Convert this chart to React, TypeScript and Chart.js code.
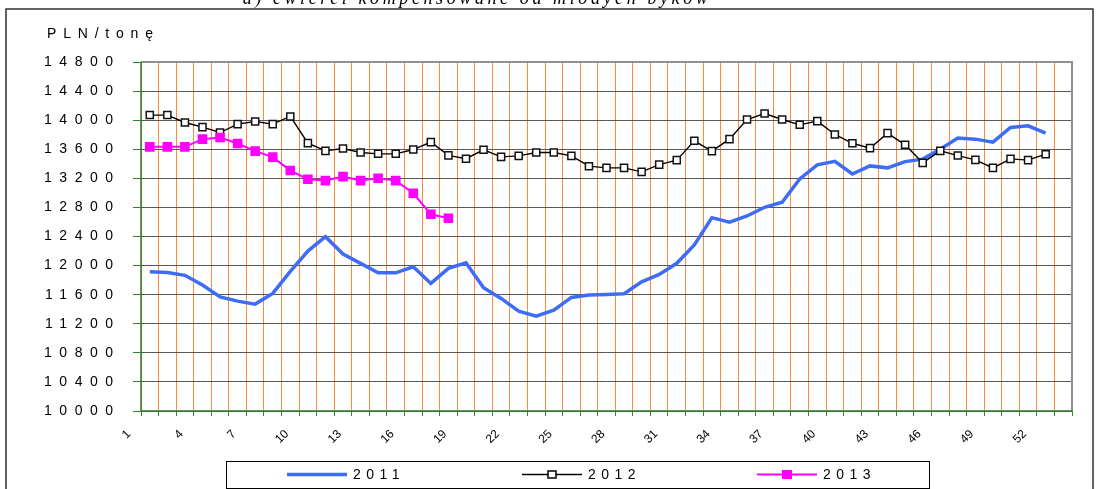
import React, { useEffect, useRef } from "react";
import { Chart, registerables } from "chart.js";

Chart.register(...registerables);

const weeks: string[] = Array.from({ length: 53 }, (_, i) => String(i + 1));

const series2011: number[] = [
  11915, 11906, 11866, 11732, 11570, 11511, 11470, 11617, 11920, 12200,
  12397, 12159, 12031, 11901, 11901, 11984, 11755, 11962, 12039, 11695,
  11548, 11373, 11304, 11387, 11562, 11594, 11603, 11612, 11777, 11879,
  12031, 12283, 12659, 12596, 12682, 12802, 12871, 13192, 13385, 13435,
  13260, 13371, 13344, 13430, 13464, 13601, 13753, 13739, 13698, 13899,
  13922, 13822,
];

const series2012: number[] = [
  14070, 14070, 13968, 13904, 13830, 13946, 13982, 13946, 14051, 13684,
  13578, 13610, 13555, 13537, 13537, 13596, 13698, 13516, 13470, 13592,
  13495, 13509, 13555, 13555, 13509, 13367, 13344, 13344, 13289, 13389,
  13450, 13716, 13574, 13739, 14009, 14092, 14009, 13936, 13987, 13803,
  13682, 13615, 13822, 13661, 13413, 13578, 13513, 13454, 13344, 13468,
  13450, 13532,
];

const series2013: number[] = [
  13633, 13633, 13633, 13739, 13761, 13679, 13574, 13491, 13307, 13188,
  13169, 13224, 13169, 13202, 13169, 12995, 12706, 12651,
];

const seriesNames: string[] = ["2011", "2012", "2013"];
const yMin = 10000;
const yMax = 14800;
const yStep = 400;
const unitLabel = "PLN/tonę";
const titleText = "a) ćwierci kompensowane od młodych byków";

const C2011 = "#3d6cf5";
const C2012 = "#000000";
const C2013 = "#ff00ff";
const SANS = '"Liberation Sans", Arial, sans-serif';

function drawSpaced(ctx: CanvasRenderingContext2D, text: string, x: number, y: number, ls: number, align: "left" | "right") {
  ctx.letterSpacing = ls + "px";
  const w = ctx.measureText(text).width - ls;
  ctx.textAlign = "left";
  ctx.fillText(text, align === "left" ? x : x - w, y);
  ctx.letterSpacing = "0px";
}

const decor = {
  id: "decor",
  beforeDatasetsDraw(chart: any) {
    const ctx: CanvasRenderingContext2D = chart.ctx;
    const { left, right, top, bottom } = chart.chartArea;
    ctx.save();
    ctx.strokeStyle = "#8f8f8f";
    ctx.lineWidth = 2;
    ctx.beginPath();
    ctx.moveTo(left, top);
    ctx.lineTo(right, top);
    ctx.lineTo(right, bottom);
    ctx.stroke();
    ctx.strokeStyle = "#2b7d2b";
    ctx.lineWidth = 1.5;
    ctx.beginPath();
    ctx.moveTo(left, top);
    ctx.lineTo(left, bottom);
    ctx.lineTo(right, bottom);
    ctx.stroke();
    ctx.restore();
  },
  afterDraw(chart: any) {
    const ctx: CanvasRenderingContext2D = chart.ctx;
    const { left } = chart.chartArea;
    const ys = chart.scales.y;
    ctx.save();
    // outer frame
    ctx.strokeStyle = "#303030";
    ctx.lineWidth = 1.5;
    ctx.strokeRect(6, 9, 1087, 520);
    // title (clipped at top)
    ctx.fillStyle = "#000";
    ctx.font = 'italic 18px "Liberation Serif", serif';
    ctx.textBaseline = "alphabetic";
    ctx.letterSpacing = "3.6px";
    const tw = ctx.measureText(titleText).width;
    ctx.textAlign = "left";
    ctx.fillText(titleText, 477 - tw / 2, 3.5);
    ctx.letterSpacing = "0px";
    // unit
    ctx.font = "14px " + SANS;
    ctx.textBaseline = "alphabetic";
    drawSpaced(ctx, unitLabel, 47, 38, 6.8, "left");
    // y tick labels
    ctx.textBaseline = "middle";
    for (const t of ys.ticks) {
      const y = ys.getPixelForValue(t.value);
      drawSpaced(ctx, String(t.value), left - 28, y, 7.5, "right");
    }
    // legend
    const lx = 226, ly = 461, lw = 703, lh = 27;
    ctx.strokeStyle = "#000";
    ctx.lineWidth = 1;
    ctx.strokeRect(lx + 0.5, ly + 0.5, lw, lh);
    const cy = ly + 13.5;
    const items = [
      { x: 287, color: C2011, width: 3.5, marker: null as null | string },
      { x: 522, color: C2012, width: 1.5, marker: "hollow" },
      { x: 757, color: C2013, width: 2, marker: "filled" },
    ];
    items.forEach((it, i) => {
      ctx.strokeStyle = it.color;
      ctx.lineWidth = it.width;
      ctx.beginPath();
      ctx.moveTo(it.x, cy);
      ctx.lineTo(it.x + 60, cy);
      ctx.stroke();
      const mx = it.x + 30;
      if (it.marker === "hollow") {
        ctx.fillStyle = "#fff";
        ctx.fillRect(mx - 4, cy - 3.5, 8, 7);
        ctx.lineWidth = 1.5;
        ctx.strokeRect(mx - 4, cy - 3.5, 8, 7);
      } else if (it.marker === "filled") {
        ctx.fillStyle = it.color;
        ctx.fillRect(mx - 5, cy - 4.5, 10, 9);
      }
      ctx.fillStyle = "#000";
      ctx.font = "14px " + SANS;
      ctx.textBaseline = "middle";
      drawSpaced(ctx, seriesNames[i], it.x + 66, cy + 0.5, 5.5, "left");
    });
    ctx.restore();
  },
};

export default function App() {
  const ref = useRef<HTMLCanvasElement>(null);
  useEffect(() => {
    if (!ref.current) return;
    const chart = new Chart(ref.current, {
      type: "line",
      data: {
        labels: weeks,
        datasets: [
          {
            label: seriesNames[0],
            data: series2011,
            borderColor: C2011,
            backgroundColor: C2011,
            borderWidth: 3.5,
            pointRadius: 0,
            tension: 0,
            order: 3,
          },
          {
            label: seriesNames[1],
            data: series2012,
            borderColor: C2012,
            backgroundColor: "#ffffff",
            borderWidth: 1.4,
            pointStyle: "rect",
            pointRadius: 5,
            pointBorderWidth: 1.5,
            pointBorderColor: "#111",
            pointBackgroundColor: "#ffffff",
            tension: 0,
            order: 2,
          },
          {
            label: seriesNames[2],
            data: series2013,
            borderColor: C2013,
            backgroundColor: C2013,
            borderWidth: 2,
            pointStyle: "rect",
            pointRadius: 6.8,
            pointBorderWidth: 0,
            pointBackgroundColor: C2013,
            tension: 0,
            order: 1,
          },
        ],
      },
      options: {
        responsive: false,
        devicePixelRatio: 1,
        animation: false,
        layout: { padding: { left: 0, top: 62, right: 29, bottom: 0 } },
        plugins: { legend: { display: false }, tooltip: { enabled: false } },
        scales: {
          x: {
            type: "category",
            offset: true,
            grid: {
              offset: true,
              color: "#ff8a3d",
              lineWidth: 1,
              tickColor: "#2b8a2b",
              tickLength: 5,
              z: -2,
            },
            border: { display: false },
            ticks: {
              autoSkip: false,
              maxRotation: 45,
              minRotation: 45,
              padding: 11,
              labelOffset: -21,
              color: "#000",
              font: { family: SANS, size: 12 },
              callback: (_v: any, i: number) => (i % 3 === 0 ? weeks[i] : ""),
            },
            afterFit: (s: any) => {
              s.height = 78;
            },
          },
          y: {
            min: yMin,
            max: yMax,
            grid: {
              color: "#585858",
              lineWidth: 1,
              tickColor: "#2b8a2b",
              tickLength: 8,
              z: -1,
            },
            border: { display: false },
            ticks: { stepSize: yStep, display: false },
            afterFit: (s: any) => {
              s.width = 141;
            },
          },
        },
      },
      plugins: [decor],
    });
    return () => chart.destroy();
  }, []);
  return (
    <div style={{ position: "absolute", left: 0, top: 0, width: 1101, height: 489, background: "#fff" }}>
      <canvas ref={ref} width={1101} height={489} style={{ display: "block" }} />
    </div>
  );
}
